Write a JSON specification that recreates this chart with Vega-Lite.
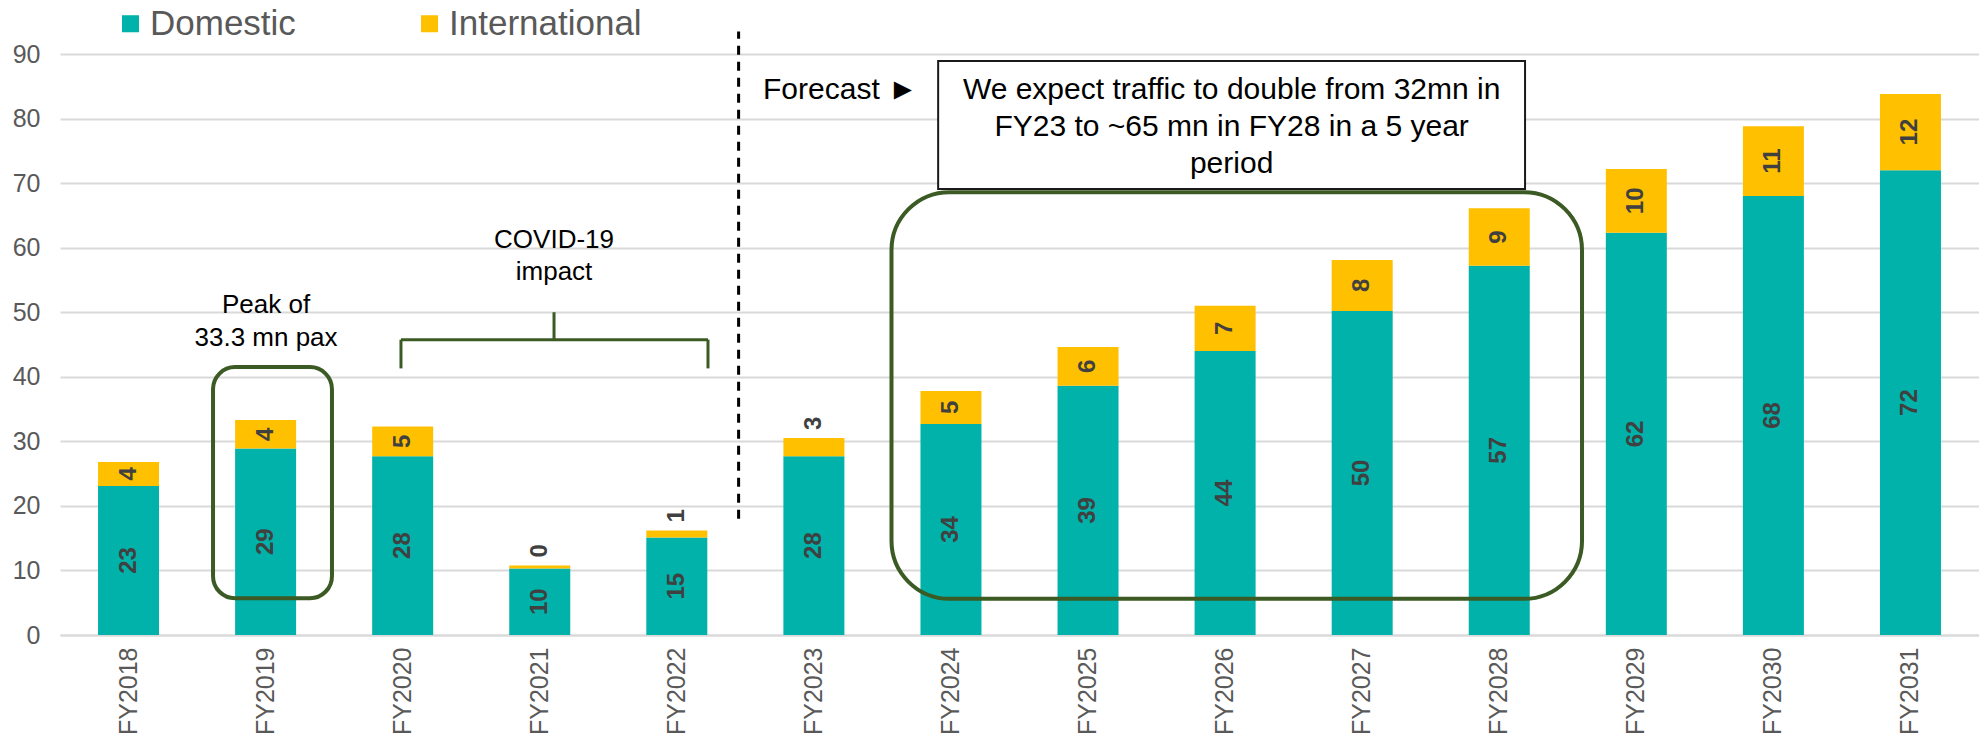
{
  "$schema": "https://vega.github.io/schema/vega-lite/v6.json",
  "width": 1919,
  "height": 581,
  "autosize": {"type": "none"},
  "padding": {"left": 60, "top": 54, "right": 0, "bottom": 102},
  "background": "white",
  "config": {
    "view": {"stroke": null},
    "font": "Liberation Sans",
    "scale": {"bandPaddingInner": 0.555, "bandPaddingOuter": 0.2775},
    "axisX": {"grid": false, "ticks": false, "domainColor": "#d9d9d9", "domainWidth": 2, "labelAngle": 270, "labelAlign": "right", "labelBaseline": "middle", "labelFontSize": 25, "labelColor": "#595959", "labelPadding": 12},
    "axisY": {"grid": true, "gridColor": "#d9d9d9", "gridWidth": 2, "domain": false, "ticks": false, "labelFontSize": 25, "labelColor": "#595959", "labelPadding": 20}
  },
  "data": {"values": [
    {"year": "FY2018", "type": "Domestic", "value": 23.1, "label": "23"},
    {"year": "FY2018", "type": "International", "value": 3.7, "label": "4"},
    {"year": "FY2019", "type": "Domestic", "value": 28.9, "label": "29"},
    {"year": "FY2019", "type": "International", "value": 4.4, "label": "4"},
    {"year": "FY2020", "type": "Domestic", "value": 27.7, "label": "28"},
    {"year": "FY2020", "type": "International", "value": 4.6, "label": "5"},
    {"year": "FY2021", "type": "Domestic", "value": 10.3, "label": "10"},
    {"year": "FY2021", "type": "International", "value": 0.45, "label": "0"},
    {"year": "FY2022", "type": "Domestic", "value": 15.1, "label": "15"},
    {"year": "FY2022", "type": "International", "value": 1.1, "label": "1"},
    {"year": "FY2023", "type": "Domestic", "value": 27.7, "label": "28"},
    {"year": "FY2023", "type": "International", "value": 2.8, "label": "3"},
    {"year": "FY2024", "type": "Domestic", "value": 32.7, "label": "34"},
    {"year": "FY2024", "type": "International", "value": 5.1, "label": "5"},
    {"year": "FY2025", "type": "Domestic", "value": 38.6, "label": "39"},
    {"year": "FY2025", "type": "International", "value": 6.0, "label": "6"},
    {"year": "FY2026", "type": "Domestic", "value": 44.0, "label": "44"},
    {"year": "FY2026", "type": "International", "value": 7.0, "label": "7"},
    {"year": "FY2027", "type": "Domestic", "value": 50.2, "label": "50"},
    {"year": "FY2027", "type": "International", "value": 7.9, "label": "8"},
    {"year": "FY2028", "type": "Domestic", "value": 57.2, "label": "57"},
    {"year": "FY2028", "type": "International", "value": 8.9, "label": "9"},
    {"year": "FY2029", "type": "Domestic", "value": 62.3, "label": "62"},
    {"year": "FY2029", "type": "International", "value": 9.9, "label": "10"},
    {"year": "FY2030", "type": "Domestic", "value": 68.0, "label": "68"},
    {"year": "FY2030", "type": "International", "value": 10.8, "label": "11"},
    {"year": "FY2031", "type": "Domestic", "value": 72.0, "label": "72"},
    {"year": "FY2031", "type": "International", "value": 11.8, "label": "12"}
  ]},
  "layer": [
    {
      "mark": {"type": "bar"},
      "encoding": {
        "x": {"field": "year", "type": "nominal", "title": null},
        "y": {"field": "value", "type": "quantitative", "stack": "zero", "title": null, "scale": {"domain": [0, 90], "nice": false}, "axis": {"values": [0, 10, 20, 30, 40, 50, 60, 70, 80, 90]}},
        "color": {"field": "type", "type": "nominal", "scale": {"domain": ["Domestic", "International"], "range": ["#00B2A9", "#FFC000"]},
          "legend": {"orient": "none", "legendX": 53, "legendY": -48, "direction": "horizontal", "title": null, "symbolType": "square", "symbolSize": 290, "symbolStrokeWidth": 0, "labelFontSize": 35, "labelLimit": 0, "labelColor": "#595959", "labelOffset": 2, "columnPadding": 116, "padding": 0}},
        "order": {"field": "type", "type": "nominal", "sort": "ascending"}
      }
    },
    {
      "mark": {"type": "text", "angle": 270, "fontSize": 24, "fontWeight": "bold", "color": "#404040", "baseline": "middle", "align": "center"},
      "encoding": {
        "x": {"field": "year", "type": "nominal", "title": null},
        "y": {"field": "value", "type": "quantitative", "stack": "zero", "bandPosition": 0.5, "title": null, "scale": {"domain": [0, 90], "nice": false}},
        "detail": {"field": "type", "type": "nominal"},
        "order": {"field": "type", "type": "nominal", "sort": "ascending"},
        "text": {"condition": {"test": "datum.type === 'International' && datum.value < 3.5", "value": ""}, "field": "label", "type": "nominal"}
      }
    },
    {
      "mark": {"type": "text", "angle": 270, "fontSize": 24, "fontWeight": "bold", "color": "#404040", "baseline": "middle", "align": "left", "dx": 8},
      "encoding": {
        "x": {"field": "year", "type": "nominal", "title": null},
        "y": {"field": "value", "type": "quantitative", "stack": "zero", "title": null, "scale": {"domain": [0, 90], "nice": false}},
        "detail": {"field": "type", "type": "nominal"},
        "order": {"field": "type", "type": "nominal", "sort": "ascending"},
        "text": {"condition": {"test": "datum.type === 'International' && datum.value < 3.5", "field": "label", "type": "nominal"}, "value": ""}
      }
    },
    {
      "data": {"values": [{"year": "FY2019", "year2": "FY2019", "lo": 5.7, "hi": 41.5}]},
      "mark": {"type": "rect", "filled": false, "stroke": "#3b5a24", "strokeWidth": 4, "cornerRadius": 22},
      "encoding": {
        "x": {"field": "year", "type": "nominal", "bandPosition": -0.362, "title": null},
        "x2": {"field": "year2", "bandPosition": 1.588},
        "y": {"field": "lo", "type": "quantitative", "title": null, "scale": {"domain": [0, 90], "nice": false}},
        "y2": {"field": "hi"}
      }
    },
    {
      "data": {"values": [{"year": "FY2024", "year2": "FY2028", "lo": 5.6, "hi": 68.6}]},
      "mark": {"type": "rect", "filled": false, "stroke": "#3b5a24", "strokeWidth": 4, "cornerRadius": 58},
      "encoding": {
        "x": {"field": "year", "type": "nominal", "bandPosition": -0.475, "title": null},
        "x2": {"field": "year2", "bandPosition": 1.857},
        "y": {"field": "lo", "type": "quantitative", "title": null, "scale": {"domain": [0, 90], "nice": false}},
        "y2": {"field": "hi"}
      }
    },
    {
      "data": {"values": [{"year": "FY2024", "year2": "FY2028", "lo": 69.1, "hi": 88.9}]},
      "mark": {"type": "rect", "fill": "white", "stroke": "#1a1a1a", "strokeWidth": 2},
      "encoding": {
        "x": {"field": "year", "type": "nominal", "bandPosition": 0.29, "title": null},
        "x2": {"field": "year2", "bandPosition": 0.923},
        "y": {"field": "lo", "type": "quantitative", "title": null, "scale": {"domain": [0, 90], "nice": false}},
        "y2": {"field": "hi"}
      }
    },
    {
      "data": {"values": [{"year": "FY2022", "lo": 18, "hi": 93.5}]},
      "mark": {"type": "rule", "color": "#000000", "strokeWidth": 3, "strokeDash": [9, 7]},
      "encoding": {
        "x": {"field": "year", "type": "nominal", "bandPosition": 1.513, "title": null},
        "y": {"field": "lo", "type": "quantitative", "title": null, "scale": {"domain": [0, 90], "nice": false}},
        "y2": {"field": "hi"}
      }
    },
    {
      "data": {"values": [{"year": "FY2020", "year2": "FY2022", "lo": 45.75, "hi": 45.75}]},
      "mark": {"type": "rule", "color": "#3b5a24", "strokeWidth": 3},
      "encoding": {
        "x": {"field": "year", "type": "nominal", "bandPosition": 0.472, "title": null},
        "x2": {"field": "year2", "bandPosition": 1.011},
        "y": {"field": "lo", "type": "quantitative", "title": null, "scale": {"domain": [0, 90], "nice": false}},
        "y2": {"field": "hi"}
      }
    },
    {
      "data": {"values": [{"year": "FY2020", "lo": 41.3, "hi": 45.75}]},
      "mark": {"type": "rule", "color": "#3b5a24", "strokeWidth": 3},
      "encoding": {
        "x": {"field": "year", "type": "nominal", "bandPosition": 0.472, "title": null},
        "y": {"field": "lo", "type": "quantitative", "title": null, "scale": {"domain": [0, 90], "nice": false}},
        "y2": {"field": "hi"}
      }
    },
    {
      "data": {"values": [{"year": "FY2022", "lo": 41.3, "hi": 45.75}]},
      "mark": {"type": "rule", "color": "#3b5a24", "strokeWidth": 3},
      "encoding": {
        "x": {"field": "year", "type": "nominal", "bandPosition": 1.011, "title": null},
        "y": {"field": "lo", "type": "quantitative", "title": null, "scale": {"domain": [0, 90], "nice": false}},
        "y2": {"field": "hi"}
      }
    },
    {
      "data": {"values": [{"year": "FY2021", "lo": 45.75, "hi": 50}]},
      "mark": {"type": "rule", "color": "#3b5a24", "strokeWidth": 3},
      "encoding": {
        "x": {"field": "year", "type": "nominal", "bandPosition": 0.734, "title": null},
        "y": {"field": "lo", "type": "quantitative", "title": null, "scale": {"domain": [0, 90], "nice": false}},
        "y2": {"field": "hi"}
      }
    },
    {
      "data": {"values": [{"year": "FY2019", "y": 49.9, "text": ["Peak of", "33.3 mn pax"]}]},
      "mark": {"type": "text", "fontSize": 26, "lineHeight": 33, "baseline": "alphabetic", "align": "center", "color": "#000000"},
      "encoding": {
        "x": {"field": "year", "type": "nominal", "bandPosition": 0.507, "title": null},
        "y": {"field": "y", "type": "quantitative", "title": null, "scale": {"domain": [0, 90], "nice": false}},
        "text": {"field": "text", "type": "nominal"}
      }
    },
    {
      "data": {"values": [{"year": "FY2021", "y": 59.9, "text": ["COVID-19", "impact"]}]},
      "mark": {"type": "text", "fontSize": 26, "lineHeight": 32, "baseline": "alphabetic", "align": "center", "color": "#000000"},
      "encoding": {
        "x": {"field": "year", "type": "nominal", "bandPosition": 0.734, "title": null},
        "y": {"field": "y", "type": "quantitative", "title": null, "scale": {"domain": [0, 90], "nice": false}},
        "text": {"field": "text", "type": "nominal"}
      }
    },
    {
      "data": {"values": [{"year": "FY2023", "y": 83.05, "text": "Forecast ►"}]},
      "mark": {"type": "text", "fontSize": 30, "baseline": "alphabetic", "align": "left", "color": "#000000"},
      "encoding": {
        "x": {"field": "year", "type": "nominal", "bandPosition": -0.334, "title": null},
        "y": {"field": "y", "type": "quantitative", "title": null, "scale": {"domain": [0, 90], "nice": false}},
        "text": {"field": "text", "type": "nominal"}
      }
    },
    {
      "data": {"values": [{"year": "FY2026", "y": 83.05, "text": ["We expect traffic to double from 32mn in", "FY23 to ~65 mn in FY28 in a 5 year", "period"]}]},
      "mark": {"type": "text", "fontSize": 30, "lineHeight": 37, "baseline": "alphabetic", "align": "center", "color": "#000000"},
      "encoding": {
        "x": {"field": "year", "type": "nominal", "bandPosition": 0.607, "title": null},
        "y": {"field": "y", "type": "quantitative", "title": null, "scale": {"domain": [0, 90], "nice": false}},
        "text": {"field": "text", "type": "nominal"}
      }
    }
  ]
}
